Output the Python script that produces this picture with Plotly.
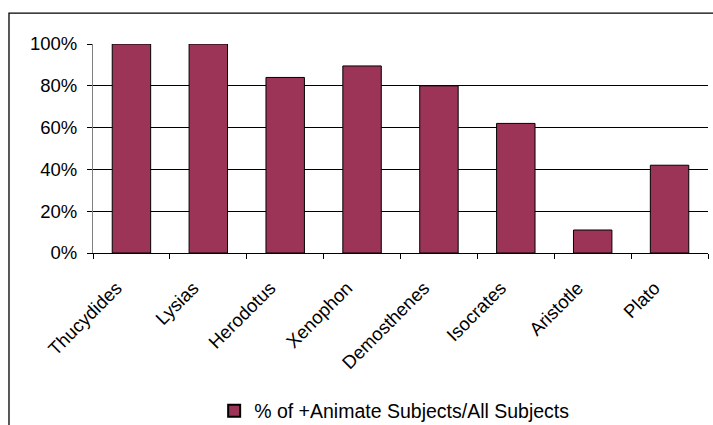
import plotly.graph_objects as go

# Share of animate subjects among all subjects, by author
authors = ["Thucydides", "Lysias", "Herodotus", "Xenophon",
           "Demosthenes", "Isocrates", "Aristotle", "Plato"]
animate_share = [1.00, 1.00, 0.84, 0.895, 0.80, 0.62, 0.11, 0.42]
y_ticks = [0, 0.2, 0.4, 0.6, 0.8, 1.0]
series_name = "% of +Animate Subjects/All Subjects"

BAR_COLOR = "#9B3457"
FONT = dict(family="Liberation Sans, Arial, sans-serif", size=18.5, color="#000000")
LEGEND_FONT = dict(FONT, size=19.5)

fig = go.Figure(
    go.Bar(
        x=authors,
        y=animate_share,
        name=series_name,
        marker=dict(color=BAR_COLOR, line=dict(color="#000000", width=1)),
        width=0.5,
        showlegend=True,
    )
)

fig.update_layout(
    width=713,
    height=425,
    margin=dict(l=93, r=5, t=44, b=172, autoexpand=False),
    paper_bgcolor="white",
    plot_bgcolor="white",
    font=FONT,
    bargap=0.5,
    legend=dict(
        orientation="h",
        x=0.197,
        xanchor="left",
        y=-0.756,
        yanchor="middle",
        font=LEGEND_FONT,
        itemsizing="constant",
    ),
    xaxis=dict(
        tickangle=-45,
        tickson="boundaries",
        ticks="outside",
        ticklen=5,
        tickcolor="#000000",
        showline=True,
        linecolor="#000000",
        linewidth=1,
        showgrid=False,
        ticklabelshift=-15,
        ticklabelstandoff=16,
        tickfont=FONT,
    ),
    yaxis=dict(
        range=[0, 1],
        tickvals=y_ticks,
        tickformat=".0%",
        ticks="outside",
        ticklen=5,
        tickcolor="#000000",
        showline=True,
        linecolor="#808080",
        linewidth=1,
        showgrid=True,
        gridcolor="#000000",
        gridwidth=1,
        zeroline=False,
        ticklabelstandoff=6,
        tickfont=FONT,
    ),
    shapes=[
        # outer chart frame, running past the right and bottom edges
        dict(type="rect", xref="paper", yref="paper",
             x0=-0.1366, x1=1.2, y0=-1.5, y1=1.148,
             line=dict(color="#000000", width=1.3), fillcolor="rgba(0,0,0,0)",
             layer="above"),
    ],
)

fig.write_html("out.html")
